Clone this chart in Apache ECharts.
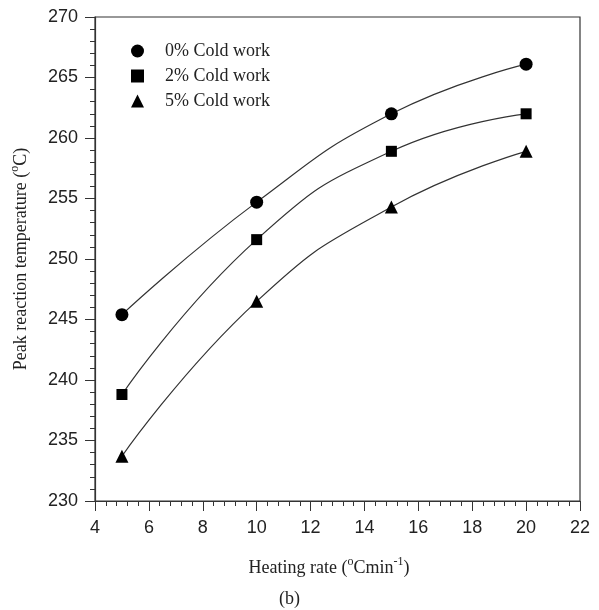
<!DOCTYPE html>
<html>
<head>
<meta charset="utf-8">
<script src="https://cdn.jsdelivr.net/npm/echarts@6/dist/echarts.min.js"></script>
<style>
  html, body { margin: 0; padding: 0; background: #fff; }
  #main { width: 599px; height: 610px; }
</style>
</head>
<body>
<div id="main"></div>
<script>
  // heating rate (oC/min)
  const heatingRate = [5, 10, 15, 20]
  // peak reaction temperature (oC) per cold work level
  const coldWork0 = [245.4, 254.7, 262.0, 266.1]
  const coldWork2 = [238.8, 251.6, 258.9, 262.0]
  const coldWork5 = [233.7, 246.5, 254.3, 258.9]
  const seriesNames = ['0% Cold work', '2% Cold work', '5% Cold work']
  const symbols = ['circle', 'rect', 'triangle']

  const serif = 'Liberation Serif'
  const sans = 'Liberation Sans'
  const ink = '#222'

  function pairs(ys) {
    return heatingRate.map((x, i) => [x, ys[i]])
  }

  function makeSeries(name, ys, symbol, size) {
    return {
      name: name,
      type: 'line',
      data: pairs(ys),
      smooth: 0.5,
      symbol: symbol,
      symbolSize: size,
      showAllSymbol: true,
      lineStyle: { color: '#333', width: 1.2 },
      itemStyle: { color: '#000' },
      emphasis: { disabled: true },
      z: 3
    }
  }

  const supStyle = { fontFamily: serif, fontSize: 12, color: ink, verticalAlign: 'top', padding: [0, 0, 12, 0] }

  const chart = echarts.init(document.getElementById('main'), null, { renderer: 'canvas' })

  chart.setOption({
    animation: false,
    title: {
      text: '(b)',
      left: 279,
      top: 590,
      padding: 0,
      textStyle: { fontFamily: serif, fontSize: 18, fontWeight: 'normal', color: ink }
    },
    grid: {
      left: 95,
      right: 19,
      top: 17,
      bottom: 109,
      containLabel: false,
      show: true,
      borderColor: '#333',
      borderWidth: 1.2,
      backgroundColor: 'transparent'
    },
    legend: {
      orient: 'vertical',
      left: 126,
      top: 37,
      itemWidth: 13,
      itemHeight: 13,
      itemGap: 7,
      selectedMode: false,
      data: seriesNames.map((n, i) => ({ name: n, icon: symbols[i], itemStyle: { color: '#000' } })),
      formatter: name => '{t|' + name + '}',
      textStyle: {
        rich: {
          t: { fontFamily: serif, fontSize: 18, color: ink, padding: [0, 0, 0, 16], lineHeight: 18 }
        }
      }
    },
    xAxis: {
      type: 'value',
      min: 4,
      max: 22,
      interval: 2,
      name: 'Heating rate ({sup|o}Cmin{sup|-1})',
      nameLocation: 'middle',
      nameGap: 55,
      nameTextStyle: {
        fontFamily: serif,
        fontSize: 18,
        color: ink,
        padding: [0, 17, 0, 0],
        rich: { sup: supStyle }
      },
      axisLine: { show: true, lineStyle: { color: '#333', width: 1.2 } },
      axisTick: { show: true, inside: false, length: 10, lineStyle: { color: '#333' } },
      minorTick: { show: true, splitNumber: 5, length: 5, lineStyle: { color: '#333' } },
      splitLine: { show: false },
      axisLabel: { fontFamily: sans, fontSize: 18, color: ink, margin: 18 }
    },
    yAxis: {
      type: 'value',
      min: 230,
      max: 270,
      interval: 5,
      name: 'Peak reaction temperature ({sup|o}C)',
      nameLocation: 'middle',
      nameGap: 62,
      nameTextStyle: {
        fontFamily: serif,
        fontSize: 18,
        color: ink,
        rich: { sup: supStyle }
      },
      axisLine: { show: true, lineStyle: { color: '#333', width: 1.2 } },
      axisTick: { show: true, inside: false, length: 10, lineStyle: { color: '#333' } },
      minorTick: { show: true, splitNumber: 5, length: 5, lineStyle: { color: '#333' } },
      splitLine: { show: false },
      axisLabel: { fontFamily: sans, fontSize: 18, color: ink, margin: 17 }
    },
    series: [
      makeSeries(seriesNames[0], coldWork0, symbols[0], 13),
      makeSeries(seriesNames[1], coldWork2, symbols[1], 11),
      makeSeries(seriesNames[2], coldWork5, symbols[2], 13)
    ]
  })
</script>
</body>
</html>
